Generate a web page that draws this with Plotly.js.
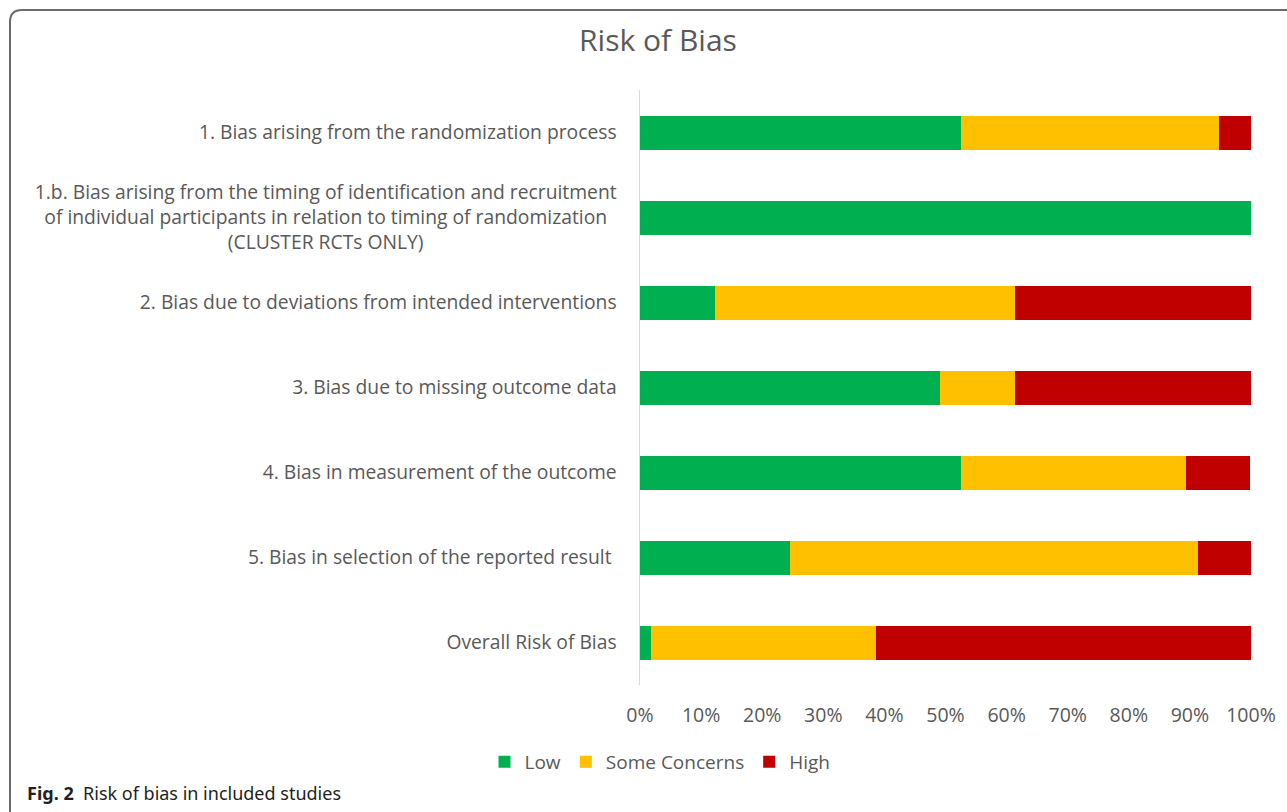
<!DOCTYPE html>
<html>
<head>
<meta charset="utf-8">
<script src="https://cdn.plot.ly/plotly-3.0.1.min.js"></script>
<style>
html,body{margin:0;padding:0;background:#fff;}
#chart{width:1287px;height:812px;}
</style>
</head>
<body>
<div id="chart"></div>
<script>
// Categories (top to bottom)
const categories = [
  "1. Bias arising from the randomization process",
  "1.b. Bias arising from the timing of identification and recruitment<br>of individual participants in relation to timing of randomization<br>(CLUSTER RCTs ONLY)",
  "2. Bias due to deviations from intended interventions",
  "3. Bias due to missing outcome data",
  "4. Bias in measurement of the outcome",
  "5. Bias in selection of the reported result\u00a0",
  "Overall Risk of Bias"
];
// Percent of studies
const lowPct    = [52.6, 100, 12.3, 49.1, 52.6, 24.6, 1.8];
const somePct   = [42.1,   0, 49.1, 12.3, 36.8, 66.7, 36.8];
const highPct   = [ 5.3,   0, 38.6, 38.6, 10.5,  8.8, 61.4];
const seriesNames = ["Low", "Some Concerns", "High"];
const tickVals = [0,10,20,30,40,50,60,70,80,90,100];
const tickText = ["0%","10%","20%","30%","40%","50%","60%","70%","80%","90%","100%"];

const colors = ["#00B050", "#FFC000", "#C00000"];
const allVals = [lowPct, somePct, highPct];

const traces = allVals.map((vals, i) => ({
  type: "bar",
  orientation: "h",
  name: seriesNames[i],
  y: categories,
  x: vals,
  marker: {color: colors[i], line: {width: 0}},
  hoverinfo: "x+name"
}));

// Frame geometry in paper units (plot area: x 640..1251, y 90..685)
const L = 640, W = 611, T = 90, H = 595;
const px = v => (v - L) / W;
const py = v => (T + H - v) / H;
const r = 12;
const framePath =
  `M ${px(10)},${py(1400)} L ${px(10)},${py(10 + r)} Q ${px(10)},${py(10)} ${px(10 + r)},${py(10)} L ${px(1400)},${py(10)}`;

const FONT = "Open Sans, Noto Sans, sans-serif";
const layout = {
  width: 1287,
  height: 812,
  paper_bgcolor: "#ffffff",
  plot_bgcolor: "#ffffff",
  barmode: "stack",
  bargap: 0.6,
  margin: {l: 640, r: 36, t: 90, b: 127, pad: 0},
  font: {family: FONT, color: "#595959", size: 19},
  title: {
    text: "Risk of Bias",
    x: px(658), xref: "paper", xanchor: "center",
    y: 1 - 40 / 812, yref: "container", yanchor: "middle",
    font: {size: 30, color: "#595959", family: FONT}
  },
  xaxis: {
    range: [0, 100],
    tickvals: tickVals,
    ticktext: tickText,
    showgrid: false,
    zeroline: false,
    showline: false,
    ticks: "",
    ticklabelstandoff: 16,
    tickfont: {size: 19.5, color: "#595959"},
    fixedrange: true
  },
  yaxis: {
    autorange: "reversed",
    showgrid: false,
    zeroline: false,
    showline: true,
    linecolor: "#d9d9d9",
    linewidth: 1.5,
    ticks: "",
    ticklabelstandoff: 18,
    tickfont: {size: 19.3, color: "#595959"},
    fixedrange: true
  },
  legend: {
    orientation: "h",
    x: px(660), xanchor: "center",
    y: py(762), yanchor: "middle",
    font: {size: 19, color: "#595959"},
    traceorder: "normal",
    itemclick: false
  },
  shapes: [{
    type: "path",
    xref: "paper", yref: "paper",
    path: framePath,
    line: {color: "#6b6b6b", width: 2}
  }],
  annotations: [{
    xref: "paper", yref: "paper",
    x: px(25), y: py(793),
    xanchor: "left", yanchor: "middle",
    showarrow: false,
    text: "<b>Fig. 2</b>  Risk of bias in included studies",
    font: {size: 18, color: "#231f20", family: "Noto Sans, Open Sans, sans-serif"}
  }]
};

Plotly.newPlot("chart", traces, layout, {displayModeBar: false, staticPlot: true}).then(gd => {
  // Center-align the lines of the multi-line category label, as in the reference
  const ticks = gd.querySelectorAll(".yaxislayer-above .ytick text");
  ticks.forEach(t => {
    const lines = t.querySelectorAll("tspan.line");
    if (lines.length > 1) {
      const anchorX = parseFloat(t.getAttribute("x"));
      let maxW = 0;
      lines.forEach(l => { maxW = Math.max(maxW, l.getComputedTextLength()); });
      const cx = anchorX - maxW / 2;
      t.setAttribute("text-anchor", "middle");
      lines.forEach(l => l.setAttribute("x", cx));
    }
  });
});
</script>
</body>
</html>
